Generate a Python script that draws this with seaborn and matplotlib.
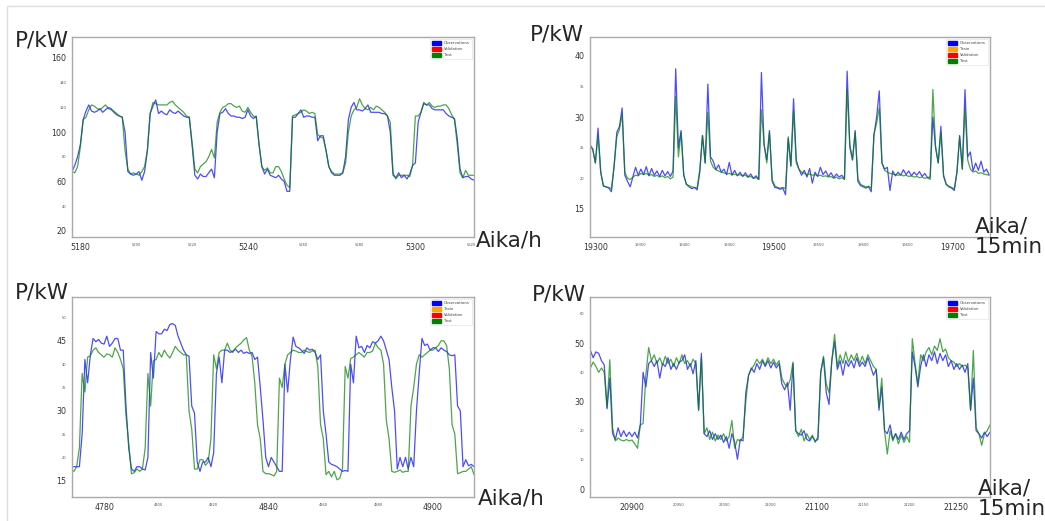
import numpy as np
import matplotlib
matplotlib.use("Agg")
import matplotlib.pyplot as plt
from matplotlib.patches import Patch
from matplotlib.lines import Line2D
import seaborn as sns

sns.set_style("white")
plt.rcParams['font.family'] = ['DejaVu Sans']

# ---------------- data ----------------
# Panel A (hourly), start index 5177
a_start = 5177
a_obs = [68, 73, 80, 90, 110, 117, 122, 117, 116, 117, 119, 116, 118, 120, 119, 116, 114, 113, 112, 100,
         68, 66, 65, 66, 68, 61, 68, 85, 115, 121, 126, 115, 117, 115, 114, 118, 116, 115, 117, 115,
         113, 112, 112, 90, 65, 62, 66, 64, 64, 67, 70, 63, 100, 115, 116, 119, 115, 113, 113, 112,
         112, 111, 112, 118, 113, 111, 113, 90, 72, 66, 70, 65, 64, 63, 65, 62, 60, 52, 52, 112,
         112, 115, 118, 112, 113, 113, 112, 112, 93, 97, 97, 85, 72, 67, 65, 65, 65, 67, 80, 110,
         120, 124, 118, 118, 117, 119, 122, 116, 116, 116, 116, 115, 115, 113, 100, 65, 63, 67, 63, 65,
         62, 66, 73, 75, 108, 116, 123, 122, 122, 119, 118, 118, 118, 118, 115, 113, 112, 111, 95, 70,
         63, 64, 64, 62, 61]
a_test = [68, 67, 72, 88, 110, 112, 118, 122, 121, 119, 118, 120, 122, 119, 118, 117, 115, 113, 112, 85,
          70, 66, 67, 66, 65, 68, 72, 85, 115, 124, 123, 122, 122, 122, 122, 124, 125, 122, 120, 118,
          116, 113, 112, 92, 70, 67, 72, 74, 76, 80, 86, 79, 108, 116, 120, 121, 123, 123, 121, 120,
          121, 117, 116, 120, 116, 113, 112, 90, 72, 69, 71, 67, 67, 72, 72, 68, 62, 57, 55, 113,
          114, 115, 116, 118, 117, 115, 116, 115, 98, 96, 95, 85, 72, 68, 66, 66, 66, 67, 75, 100,
          113, 118, 120, 127, 122, 119, 118, 120, 118, 121, 120, 118, 116, 113, 108, 67, 62, 65, 65, 65,
          65, 64, 73, 113, 113, 116, 124, 122, 124, 121, 120, 121, 121, 122, 122, 119, 114, 110, 90, 67,
          63, 69, 65, 65, 65]

# Panel B (15 min, every 3rd step), start index 19294
b_start, b_step = 19294, 3
b_obs = [25.5, 24.8, 22.5, 28.2, 21, 18.7, 18.6, 18.4, 17.8, 22, 27.5, 28.5, 31.5, 20.5, 19.5, 18.6, 20.2, 21.8, 20.5, 21.5,
         20.6, 21.9, 20.4, 21.6, 20.5, 21.2, 20.3, 21.3, 20.4, 21.1, 20.3, 21.2, 37.9, 25, 27.8, 20.5, 19, 18.6, 18.3, 18.5,
         18.1, 21, 27, 22.5, 35.4, 23.5, 22.8, 21.4, 22.2, 21, 21.5, 20.6, 22.6, 20.5, 21.3, 20.4, 21, 20.3, 20.9, 20.2,
         20.7, 20, 20.4, 19.8, 37.3, 25.5, 23, 27.8, 19.5, 18.5, 18.4, 18.2, 18.4, 17.3, 26.5, 22, 33, 23, 21.5, 20.5,
         21.3, 20.2, 21.6, 19.2, 21, 20.3, 21.8, 20.6, 21.2, 20.3, 20.9, 20.1, 20.7, 20.2, 20.5, 19.9, 37.5, 25.5, 23, 27.8,
         19.5, 18.8, 18.6, 18.4, 18.6, 17.8, 27, 30, 34.3, 22.5, 21.5, 21.8, 18, 21.2, 20.4, 21, 20.5, 21.4, 20.6, 21.2,
         20.4, 21, 20.5, 21.1, 20.3, 20.8, 20.1, 20.2, 30, 25, 22.5, 28.5, 20.5, 19, 18.6, 18.4, 18, 21, 27, 21.5,
         34.5, 23.5, 24.3, 21.2, 22.5, 21.3, 22.8, 21, 21.5, 20.6]
b_test = [25, 24.8, 22.5, 27, 21, 18.8, 18.6, 18.5, 18.3, 22, 26.8, 28, 30.5, 21, 20, 19.8, 20.2, 20.5, 20.4, 20.8,
          20.6, 20.8, 20.5, 20.6, 20.3, 20.5, 20.2, 20.4, 20.1, 20.3, 19.9, 20.2, 33.4, 23.5, 27.5, 20.5, 19, 18.8, 18.6, 18.5,
          18.4, 21.5, 27, 22.5, 30.8, 22.8, 21.8, 21.4, 21.2, 21, 20.9, 20.7, 20.8, 20.6, 20.7, 20.5, 20.6, 20.4, 20.5, 20.2,
          20.3, 20, 20.1, 19.8, 31.2, 25.5, 22.5, 27.5, 19.8, 18.8, 18.5, 18.4, 18.5, 18.3, 26.8, 22, 31, 22.5, 21.5, 21,
          20.8, 20.6, 20.7, 20.5, 20.6, 20.4, 20.5, 20.3, 20.4, 20.2, 20.3, 20, 20.2, 19.9, 20.1, 19.8, 34.5, 25, 23, 27.5,
          20, 19, 18.8, 18.6, 18.7, 18.4, 27.2, 29, 31.5, 22.5, 21.3, 21, 20.8, 20.7, 20.6, 20.5, 20.6, 20.4, 20.5, 20.3,
          20.4, 20.2, 20.3, 20.1, 20.2, 20, 20.1, 19.8, 34.5, 25.3, 22.5, 27.5, 20.3, 19, 18.7, 18.5, 18.3, 21, 26.8, 21.5,
          31.5, 23, 21.5, 21, 21.2, 20.8, 20.9, 20.7, 20.6, 20.5]

# Panel C (hourly), start index 4768
c_start = 4768
c_obs = [18, 18, 18, 18, 25, 41, 36, 42, 45.5, 44.8, 45.3, 44.5, 44.3, 46, 43.8, 44.5, 45.5, 45.5, 43, 43,
         31, 22, 17.5, 17, 18, 18, 17.5, 17.3, 20, 42.5, 37, 47, 46.5, 46.5, 47.5, 47.2, 48.5, 48.7, 48.3, 46,
         44.5, 43, 42, 41.7, 31, 29.5, 19, 17, 19, 19, 20, 18, 21, 38, 41.5, 36, 43, 43, 42.5, 42.8,
         43.2, 42.5, 43, 42.3, 42.6, 42.3, 42.5, 41, 41.5, 35, 28, 20, 18, 20, 19, 18, 17, 17, 40, 34,
         41, 45.8, 43.8, 43.5, 43, 42.3, 43.5, 43, 43.2, 42.5, 41, 42, 30, 25, 19, 18.5, 18.3, 18, 17.5, 17,
         17.2, 17, 40, 36, 46, 43.5, 43.8, 42.5, 44, 43.5, 44.8, 44.5, 45, 46, 45, 43, 41, 35, 30, 17.5,
         20, 18, 20, 17.5, 20, 18, 30, 38, 45.5, 44, 44.3, 43, 43.5, 43.5, 42.7, 43.5, 43, 42.7, 42, 41.8,
         42, 31, 30, 18, 19.5, 18.2, 18.5, 18]
c_test = [17.3, 17, 18, 22, 38, 34, 41.5, 41.8, 43, 43.5, 42.5, 42, 41.5, 42.2, 42, 41.5, 43.5, 42.5, 41, 39,
          29, 23, 16.5, 16.7, 17.5, 17, 17.5, 22, 38, 31, 40.7, 41, 42.5, 41.5, 43, 42, 41.3, 42.5, 43.8, 43,
          42.5, 42, 42, 30, 26, 17.5, 17.5, 19.5, 19.5, 18.3, 19, 24, 42, 39, 42.5, 43, 43, 44.5, 43, 42.5,
          43.5, 44, 44.5, 45.2, 45.7, 43, 41.7, 36, 27, 24, 17, 16.5, 16.5, 16.3, 16, 17, 37, 35, 40, 42,
          42.5, 43, 42.8, 42.5, 42.5, 43, 42.7, 42.5, 42.8, 43, 39.5, 27, 24, 16.3, 17, 15.8, 17, 15.2, 15.5, 17.5,
          39.5, 37, 41.2, 41.5, 42, 42.5, 42, 41.5, 42.5, 42.5, 42.8, 44.5, 43.5, 43, 40, 28, 24, 17, 16.8, 17,
          17.3, 16.8, 17, 17, 31, 35, 40, 42, 41.5, 42, 42.5, 43, 43, 43.5, 44, 45, 45, 44, 39, 27,
          25, 16.5, 16.7, 17, 17, 17.5, 18, 16.3]

# Panel D (15 min, every 3rd step), start index 20855
d_start, d_step = 20855, 3
d_obs = [47.5, 45, 47, 46.5, 44, 42.5, 27.5, 38, 19, 17, 21, 18, 20, 18, 19.5, 18, 19.5, 17.5, 22, 40,
         35, 43, 44, 42, 44, 38, 43, 42, 45, 41, 43, 41, 43.5, 44, 46, 41, 43, 39.5, 44, 27,
         46.5, 19, 18, 20, 17, 19, 17, 18.5, 16, 18, 14, 19, 16, 10.2, 17, 16.5, 33, 39, 41.5, 40,
         43, 41, 44, 42, 44, 41.5, 43.5, 41.5, 43, 36, 34, 36.5, 27, 43, 20, 19, 18.5, 20, 17, 16.5,
         18, 16.5, 17, 40, 45, 33, 29, 44, 50.5, 41, 44, 39, 44, 42, 44, 41.5, 45, 42, 43.5, 42,
         45, 42, 39, 41, 27, 35, 20, 19, 22, 17, 19, 17, 19.5, 17, 19, 20, 47, 42, 35, 42,
         46, 42, 46, 44, 47, 43, 46.5, 44, 46, 42, 44, 41, 43, 41, 42.5, 40, 43, 27, 38, 20,
         19, 17.5, 19.5, 18, 19.5]
d_test = [41.5, 43.5, 42, 40, 41.5, 40, 28, 44.3, 21, 16.5, 17.5, 16.8, 16.5, 17, 16.5, 16.8, 15.5, 14, 22, 22.5,
          39, 48.5, 44, 46, 43, 45, 42.5, 45.5, 43, 44.5, 42, 45, 43, 46, 43, 44, 42, 44.5, 43, 27,
          45, 19, 21, 17, 19.5, 16.5, 18.5, 17, 19, 16.5, 18, 23.5, 14, 17, 16.5, 18, 30, 39, 41, 42.5,
          44.5, 43, 44.5, 42.5, 45, 43, 44.5, 42.5, 44, 38, 36, 35, 37.5, 43.5, 20, 18, 20.5, 16.5, 19, 17,
          18.5, 16, 18, 40, 45.5, 36, 33, 44, 53, 42, 46, 43, 47, 43.5, 46, 44, 46.5, 43, 45.5, 43,
          46, 44, 42, 41, 28, 38, 20, 12, 20, 16.5, 19, 15.5, 18.5, 16, 18, 16, 51.5, 43, 36, 46,
          44, 47, 48.5, 46, 49, 47.5, 51.5, 47, 48, 45, 44, 43.5, 42, 43, 42, 42.5, 41.5, 27, 47.5, 21,
          19, 15, 19, 20, 22]

legend_sets = [
    ["Observations", "Validation", "Test"],
    ["Observations", "Train", "Validation", "Test"],
    ["Observations", "Train", "Validation", "Test"],
    ["Observations", "Validation", "Test"],
]
legend_colors = {"Observations": "blue", "Train": "orange", "Validation": "red", "Test": "green"}

# tick definitions: (ticks, big-label set)
a_xt, a_xbig = [5180, 5200, 5220, 5240, 5260, 5280, 5300, 5320], [5180, 5240, 5300]
a_yt, a_ybig = [20, 40, 60, 80, 100, 120, 140, 160], [20, 60, 100, 160]
b_xt, b_xbig = [19300, 19350, 19400, 19450, 19500, 19550, 19600, 19650, 19700], [19300, 19500, 19700]
b_yt, b_ybig = [15, 20, 25, 30, 35, 40], [15, 30, 40]
c_xt, c_xbig = [4780, 4800, 4820, 4840, 4860, 4880, 4900], [4780, 4840, 4900]
c_yt, c_ybig = [15, 20, 25, 30, 35, 40, 45, 50], [15, 30, 45]
d_xt, d_xbig = [20900, 20950, 21000, 21050, 21100, 21150, 21200, 21250], [20900, 21100, 21250]
d_yt, d_ybig = [0, 10, 20, 30, 40, 50, 60], [0, 30, 50]

# ---------------- figure ----------------
fig = plt.figure(figsize=(10.45, 5.21), dpi=100)
W, H = 1045, 521

def px_axes(l, t, r, b):
    return fig.add_axes([l / W, 1 - b / H, (r - l) / W, (b - t) / H])

panels = [
    dict(ax=px_axes(72, 37, 474, 237), x0=a_start, step=1, obs=a_obs, test=a_test,
         xlim=(5177, 5321), ylim=(15, 177), xt=a_xt, xb=a_xbig, yt=a_yt, yb=a_ybig,
         leg=legend_sets[0]),
    dict(ax=px_axes(590, 37, 990, 237), x0=b_start, step=b_step, obs=b_obs, test=b_test,
         xlim=(19294, 19742), ylim=(10.4, 43.1), xt=b_xt, xb=b_xbig, yt=b_yt, yb=b_ybig,
         leg=legend_sets[1]),
    dict(ax=px_axes(72, 297, 474, 497), x0=c_start, step=1, obs=c_obs, test=c_test,
         xlim=(4768.3, 4915), ylim=(11.5, 54.4), xt=c_xt, xb=c_xbig, yt=c_yt, yb=c_ybig,
         leg=legend_sets[2]),
    dict(ax=px_axes(590, 297, 990, 497), x0=d_start, step=d_step, obs=d_obs, test=d_test,
         xlim=(20854.6, 21287), ylim=(-2.7, 65.8), xt=d_xt, xb=d_xbig, yt=d_yt, yb=d_ybig,
         leg=legend_sets[3]),
]

for p in panels:
    ax = p["ax"]
    xo = p["x0"] + p["step"] * np.arange(len(p["obs"]))
    xtst = p["x0"] + p["step"] * np.arange(len(p["test"]))
    sns.lineplot(x=xo, y=np.array(p["obs"], float), ax=ax, color="blue", alpha=0.7,
                 linewidth=0.9, sort=False)
    sns.lineplot(x=xtst, y=np.array(p["test"], float), ax=ax, color="green", alpha=0.7,
                 linewidth=0.9, sort=False)
    ax.set_xlim(*p["xlim"])
    ax.set_ylim(*p["ylim"])
    ax.set_xlabel("")
    ax.set_ylabel("")
    for s in ax.spines.values():
        s.set_color("#aaaaaa")
        s.set_linewidth(1.0)
    ax.set_xticks(p["xt"])
    ax.set_xticklabels([str(v) for v in p["xt"]])
    ax.set_yticks(p["yt"])
    ax.set_yticklabels([str(v) for v in p["yt"]])
    ax.tick_params(axis="both", length=1.8, width=0.5, color="#888888", pad=2.2)
    for lab, v in zip(ax.get_xticklabels(), p["xt"]):
        if v in p["xb"]:
            lab.set_fontsize(5.7)
            lab.set_color("#333333")
        else:
            lab.set_fontsize(2.6)
            lab.set_color("#555555")
    for lab, v in zip(ax.get_yticklabels(), p["yt"]):
        if v in p["yb"]:
            lab.set_fontsize(5.7)
            lab.set_color("#333333")
        else:
            lab.set_fontsize(2.6)
            lab.set_color("#555555")
    handles = [Patch(facecolor=legend_colors[n], edgecolor=legend_colors[n], label=n) for n in p["leg"]]
    leg = ax.legend(handles=handles, loc="upper right", fontsize=2.8, frameon=True,
                    handlelength=2.2, handleheight=1.0, borderaxespad=0.6, borderpad=0.5,
                    labelspacing=0.5, handletextpad=0.8, fancybox=False)
    leg.get_frame().set_edgecolor("#dddddd")
    leg.get_frame().set_linewidth(0.5)
    for t in leg.get_texts():
        t.set_color("#444444")

# overlay axis captions
fs_big = 15.5
fig.text(15 / W, 1 - 40 / H, "P/kW", fontsize=fs_big, va="center", ha="left")
fig.text(530 / W, 1 - 35 / H, "P/kW", fontsize=fs_big, va="center", ha="left")
fig.text(15 / W, 1 - 293 / H, "P/kW", fontsize=fs_big, va="center", ha="left")
fig.text(532 / W, 1 - 294 / H, "P/kW", fontsize=fs_big, va="center", ha="left")
fig.text(476 / W, 1 - 240 / H, "Aika/h", fontsize=fs_big, va="center", ha="left")
fig.text(478 / W, 1 - 499 / H, "Aika/h", fontsize=fs_big, va="center", ha="left")
fig.text(975 / W, 1 - 237 / H, "Aika/\n15min", fontsize=fs_big, va="center", ha="left",
         linespacing=1.0)
fig.text(978 / W, 1 - 499 / H, "Aika/\n15min", fontsize=fs_big, va="center", ha="left",
         linespacing=1.0)

# thin screenshot border
fig.add_artist(Line2D([7 / W, 1], [1 - 6 / H, 1 - 6 / H], transform=fig.transFigure,
                      color="#dddddd", linewidth=1))
fig.add_artist(Line2D([7 / W, 7 / W], [0, 1 - 6 / H], transform=fig.transFigure,
                      color="#dddddd", linewidth=1))

fig.savefig("out.png", dpi=100)
